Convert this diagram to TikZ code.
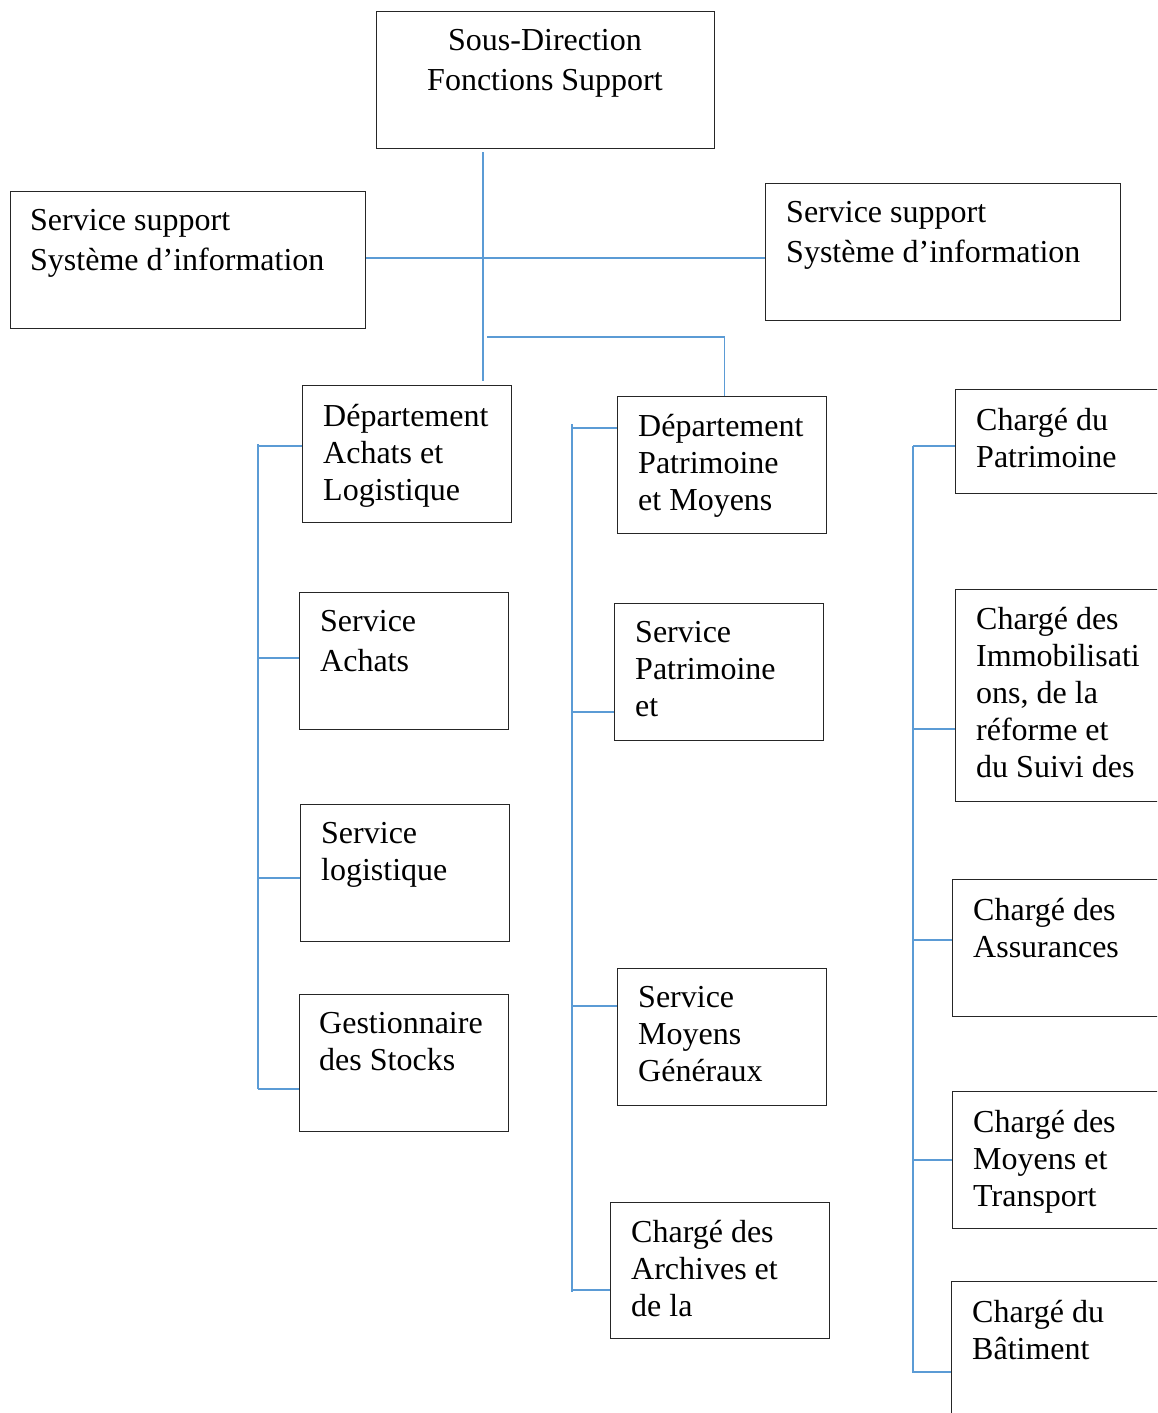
\documentclass[tikz,border=0pt]{standalone}
\usepackage{fontspec}
\setmainfont{Liberation Serif}
\usetikzlibrary{calc}

\definecolor{linkblue}{HTML}{5B9BD5}

\tikzset{
  unit/.style={draw=black!85, line width=1.3pt, anchor=north west, inner sep=0pt},
  lbl/.style={anchor=north west, align=left, inner sep=0pt, font=\fontsize{32}{37}\selectfont},
  link/.style={draw=linkblue, line width=1.3pt}
}

\begin{document}
\begin{tikzpicture}[x=1pt, y=-1pt]
\useasboundingbox (0,0) rectangle (1157,1413);
\clip (0,0) rectangle (1157,1413);
\fill[white] (0,0) rectangle (1157,1413);

% head of the sub-direction
\node[unit, minimum width=338, minimum height=137] (head) at (376,11) {};
\node[lbl, anchor=north, align=center] at (545,29) {Sous-Direction\\[3pt]Fonctions Support};

% the two support services
\node[unit, minimum width=355, minimum height=137] (ssl) at (10,191) {};
\node[lbl] at (30,209) {Service support\\[3pt]Système d’information};
\node[unit, minimum width=355, minimum height=137] (ssr) at (765,183) {};
\node[lbl] at (786,201) {Service support\\[3pt]Système d’information};

% purchasing and logistics
\node[unit, minimum width=209, minimum height=137] (dal) at (302,385) {};
\node[lbl] at (323,404) {Département\\Achats et\\Logistique};
\node[unit, minimum width=209, minimum height=137] (sa) at (299,592) {};
\node[lbl] at (320,610) {Service\\[3pt]Achats};
\node[unit, minimum width=209, minimum height=137] (sl) at (300,804) {};
\node[lbl] at (321,822) {Service\\logistique};
\node[unit, minimum width=209, minimum height=137] (gs) at (299,994) {};
\node[lbl] at (319,1012) {Gestionnaire\\des Stocks};

% estate and general means
\node[unit, minimum width=209, minimum height=137] (dpm) at (617,396) {};
\node[lbl] at (638,414) {Département\\Patrimoine\\et Moyens};
\node[unit, minimum width=209, minimum height=137] (sp) at (614,603) {};
\node[lbl] at (635,621) {Service\\Patrimoine\\et};
\node[unit, minimum width=209, minimum height=137] (smg) at (617,968) {};
\node[lbl] at (638,986) {Service\\Moyens\\Généraux};
\node[unit, minimum width=219, minimum height=136] (ca) at (610,1202) {};
\node[lbl] at (631,1220) {Chargé des\\Archives et\\de la};

% officers (cut at the right edge)
\node[unit, minimum width=215, minimum height=104] (cp) at (955,389) {};
\node[lbl] at (976,408) {Chargé du\\Patrimoine};
\node[unit, minimum width=215, minimum height=212] (ci) at (955,589) {};
\node[lbl] at (976,607) {Chargé des\\Immobilisati\\ons, de la\\réforme et\\du Suivi des};
\node[unit, minimum width=215, minimum height=137] (cas) at (952,879) {};
\node[lbl] at (973,898) {Chargé des\\Assurances};
\node[unit, minimum width=215, minimum height=137] (cmt) at (952,1091) {};
\node[lbl] at (973,1110) {Chargé des\\Moyens et\\Transport};
\node[unit, minimum width=215, minimum height=160] (cb) at (951,1281) {};
\node[lbl] at (972,1300) {Chargé du\\Bâtiment};

% trunk
\coordinate (trunk) at (483,152);
\coordinate (hub) at (483,258);
\coordinate (fork) at (487,337);
\draw[link] (trunk) -- ([yshift=4]trunk |- dal.north);
\draw[link] (ssl.east |- hub) -- (ssr.west |- hub);
\draw[link] (fork) -| ([xshift=2.5]dpm.north);

% left bracket
\coordinate (l1) at (258,446);
\coordinate (l2) at (258,658);
\coordinate (l3) at (258,878);
\coordinate (l4) at (258,1089);
\draw[link] ([yshift=2]l1) -- (l4);
\draw[link] (l1) -- (dal.west |- l1);
\draw[link] (l2) -- (sa.west |- l2);
\draw[link] (l3) -- (sl.west |- l3);
\draw[link] (l4) -- (gs.west |- l4);

% middle bracket
\coordinate (m1) at (572,428);
\coordinate (m2) at (572,712);
\coordinate (m3) at (572,1006);
\coordinate (m4) at (572,1290);
\draw[link] ([yshift=4]m1) -- ([yshift=-2]m4);
\draw[link] (m1) -- (dpm.west |- m1);
\draw[link] (m2) -- (sp.west |- m2);
\draw[link] (m3) -- (smg.west |- m3);
\draw[link] (m4) -- (ca.west |- m4);

% right bracket
\coordinate (r1) at (913,446);
\coordinate (r2) at (913,729);
\coordinate (r3) at (913,940);
\coordinate (r4) at (913,1160);
\coordinate (r5) at (913,1372);
\draw[link] (r1) -- ([yshift=-1]r5);
\draw[link] (r1) -- (cp.west |- r1);
\draw[link] (r2) -- (ci.west |- r2);
\draw[link] (r3) -- (cas.west |- r3);
\draw[link] (r4) -- (cmt.west |- r4);
\draw[link] (r5) -- (cb.west |- r5);
\end{tikzpicture}
\end{document}
